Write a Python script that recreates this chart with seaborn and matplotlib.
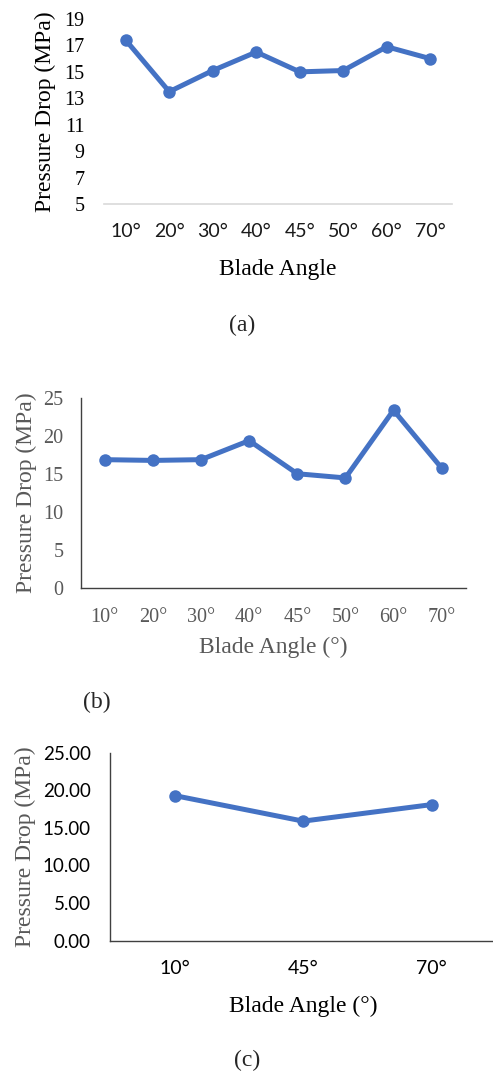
import matplotlib
matplotlib.use("Agg")
import matplotlib.pyplot as plt
import seaborn as sns

# data
angles_a = ["10°", "20°", "30°", "40°", "45°", "50°", "60°", "70°"]
drop_a = [17.4, 13.5, 15.1, 16.5, 15.0, 15.1, 16.9, 16.0]

angles_b = ["10°", "20°", "30°", "40°", "45°", "50°", "60°", "70°"]
drop_b = [16.9, 16.8, 16.9, 19.4, 15.05, 14.5, 23.4, 15.8]

angles_c = ["10°", "45°", "70°"]
drop_c = [19.3, 15.9, 18.1]

yticks_a = [5, 7, 9, 11, 13, 15, 17, 19]
yticks_b = [0, 5, 10, 15, 20, 25]
yticks_c = [0, 5, 10, 15, 20, 25]

sns.set_style("white")
blue = "#4472C4"
serif = "Liberation Serif"
sans = "Lato"
gray = "#595959"

fig = plt.figure(figsize=(4.93, 10.72), dpi=100)
W, H = 493, 1072


def axes_px(left, top, right, bottom):
    return fig.add_axes([left / W, 1 - bottom / H, (right - left) / W, (bottom - top) / H])


def draw(ax, x, y):
    sns.lineplot(x=x, y=y, ax=ax, color=blue, linewidth=3.6, marker="o",
                 markersize=9, markeredgewidth=0, sort=False)
    ax.set_xlim(-0.5, len(x) - 0.5)
    ax.tick_params(length=0)


# ---- (a)
ax = axes_px(104, 19, 452, 204)
draw(ax, angles_a, drop_a)
ax.set_ylim(5, 19)
ax.set_yticks(yticks_a)
for s in ["top", "right", "left"]:
    ax.spines[s].set_visible(False)
ax.spines["bottom"].set_color("#d9d9d9")
ax.spines["bottom"].set_linewidth(1.2)
ax.set_yticklabels([str(v) for v in yticks_a], family=serif, fontsize=14.5, color="black")
ax.set_xticks(range(len(angles_a)))
ax.set_xticklabels(angles_a, family=sans, fontsize=14, color="#1a1a1a")
ax.tick_params(axis="x", pad=14)
ax.tick_params(axis="y", pad=14)
ax.set_xlabel("Blade Angle", family=serif, fontsize=17, color="black", labelpad=13)
ax.set_ylabel("Pressure Drop (MPa)", family=serif, fontsize=17, color="black", labelpad=6)
fig.text(242 / W, 1 - 325 / H, "(a)", family=serif, fontsize=17, ha="center", va="center")

# ---- (b)
ax = axes_px(80.7, 398, 465.7, 588.3)
draw(ax, angles_b, drop_b)
ax.set_ylim(0, 25)
ax.set_yticks(yticks_b)
for s in ["top", "right"]:
    ax.spines[s].set_visible(False)
for s in ["left", "bottom"]:
    ax.spines[s].set_color("#404040")
    ax.spines[s].set_linewidth(1.0)
ax.set_yticklabels([str(v) for v in yticks_b], family=serif, fontsize=14.5, color=gray)
ax.set_xticks(range(len(angles_b)))
ax.set_xticklabels(angles_b, family=serif, fontsize=14.5, color=gray)
ax.tick_params(axis="x", pad=14)
ax.tick_params(axis="y", pad=12.5)
ax.set_xlabel("Blade Angle (°)", family=serif, fontsize=17, color=gray, labelpad=7)
ax.set_ylabel("Pressure Drop (MPa)", family=serif, fontsize=17, color=gray, labelpad=4.5)
fig.text(97 / W, 1 - 702 / H, "(b)", family=serif, fontsize=17, ha="center", va="center")

# ---- (c)
ax = axes_px(110.3, 752.7, 496, 940.7)
draw(ax, angles_c, drop_c)
ax.set_ylim(0, 25)
ax.set_yticks(yticks_c)
for s in ["top", "right"]:
    ax.spines[s].set_visible(False)
for s in ["left", "bottom"]:
    ax.spines[s].set_color("#404040")
    ax.spines[s].set_linewidth(1.0)
ax.set_yticklabels([f"{v:.2f}" for v in yticks_c], family=sans, fontsize=13.5, color="black")
ax.set_xticks(range(len(angles_c)))
ax.set_xticklabels(angles_c, family=sans, fontsize=14, color="black")
ax.tick_params(axis="x", pad=14)
ax.tick_params(axis="y", pad=14)
ax.set_xlabel("Blade Angle (°)", family=serif, fontsize=17, color="black", labelpad=13.5)
ax.set_ylabel("Pressure Drop (MPa)", family=serif, fontsize=17, color=gray, labelpad=5)
fig.text(247 / W, 1 - 1060 / H, "(c)", family=serif, fontsize=17, ha="center", va="center")

fig.savefig("out.png", dpi=100)
